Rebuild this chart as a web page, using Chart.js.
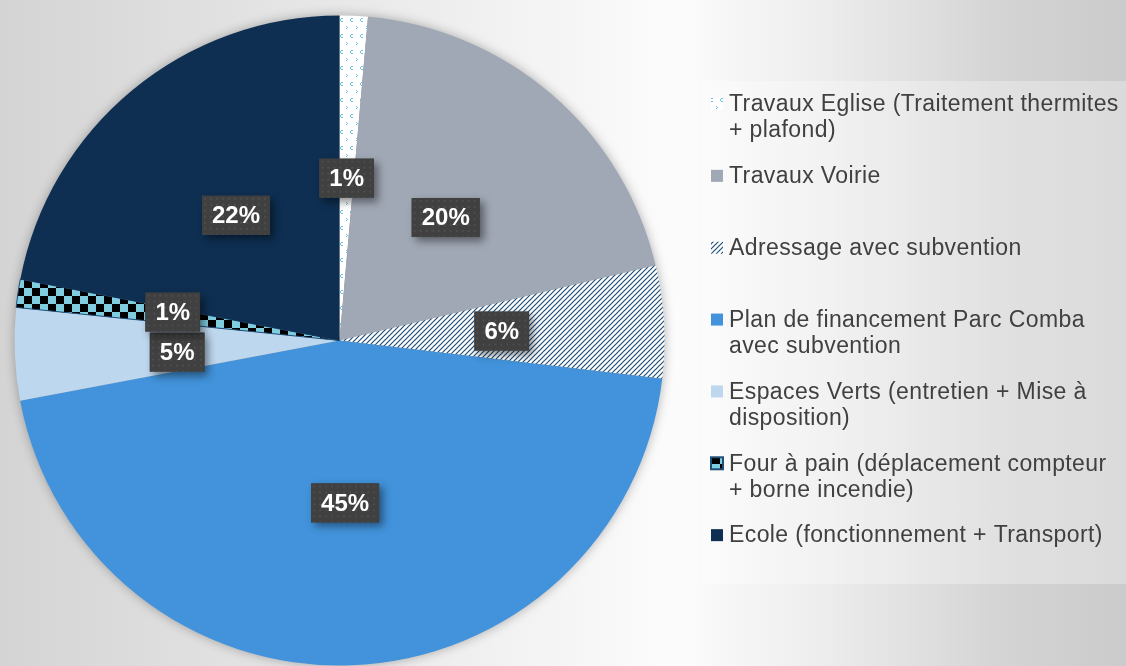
<!DOCTYPE html>
<html>
<head>
<meta charset="utf-8">
<script src="https://cdn.jsdelivr.net/npm/chart.js@4"></script>
<style>
  html, body { margin: 0; padding: 0; }
  body {
    width: 1126px; height: 666px; overflow: hidden;
    background: linear-gradient(90deg, #d4d4d4 0px, #fcfcfc 680px, #ececec 830px, #d4d4d4 1000px, #cbcbcb 1126px);
  }
  canvas { display: block; }
</style>
</head>
<body>
<canvas id="c" width="1126" height="666"></canvas>
<script>
// ---- data ----
const categories = [
  ["Travaux Eglise (Traitement thermites", "+ plafond)"],
  ["Travaux Voirie"],
  ["Adressage avec subvention"],
  ["Plan de financement Parc Comba", "avec subvention"],
  ["Espaces Verts (entretien + Mise à", "disposition)"],
  ["Four à pain (déplacement compteur", "+ borne incendie)"],
  ["Ecole (fonctionnement + Transport)"]
];
const values = [1.4, 19.9, 5.6, 45.2, 4.6, 1.4, 22.0];

// ---- patterns ----
function makeTile(w, h, draw) {
  const c = document.createElement('canvas');
  c.width = w; c.height = h;
  const g = c.getContext('2d');
  draw(g, w, h);
  return c;
}
const ctxMain = document.getElementById('c').getContext('2d');

const confettiTile = makeTile(10, 16, (g) => {
  g.fillStyle = '#ffffff'; g.fillRect(0, 0, 10, 16);
  g.fillStyle = '#6cc3e0';
  g.fillRect(1, 2, 2, 1); g.fillRect(0, 3, 1, 2); g.fillRect(1, 5, 2, 1);
  g.fillRect(6, 10, 1, 1); g.fillRect(7, 11, 1, 1); g.fillRect(6, 12, 1, 1);
});
const stripeTile = makeTile(5, 5, (g) => {
  g.fillStyle = '#ffffff'; g.fillRect(0, 0, 5, 5);
  g.strokeStyle = '#1f4e79'; g.lineWidth = 1.2;
  g.beginPath();
  g.moveTo(-1, 6); g.lineTo(6, -1);
  g.moveTo(-3.5, 3.5); g.lineTo(3.5, -3.5);
  g.moveTo(1.5, 8.5); g.lineTo(8.5, 1.5);
  g.stroke();
});
const checkerTile = makeTile(16, 16, (g) => {
  g.fillStyle = '#80cde0'; g.fillRect(0, 0, 16, 16);
  g.fillStyle = '#000000';
  g.fillRect(0, 0, 8, 8); g.fillRect(8, 8, 8, 8);
});
const boxTile = makeTile(6, 6, (g) => {
  g.fillStyle = '#404040'; g.fillRect(0, 0, 6, 6);
  g.fillStyle = '#4d4d4d'; g.fillRect(2, 2, 2, 2);
});

const colors = [
  ctxMain.createPattern(confettiTile, 'repeat'),
  '#a0a8b5',
  ctxMain.createPattern(stripeTile, 'repeat'),
  '#4293db',
  '#bdd7ee',
  ctxMain.createPattern(checkerTile, 'repeat'),
  '#0e2f52'
];
const borderColors = ['#ffffff', '#a0a8b5', '#ffffff', '#4293db', '#bdd7ee', '#1f4e79', '#0e2f52'];
const borderWidths = [0, 0, 0, 0, 0, 1, 0];
const boxPattern = ctxMain.createPattern(boxTile, 'repeat');

// ---- pie shadow ----
const pieShadow = {
  id: 'pieShadow',
  beforeDatasetsDraw(chart) {
    const arc = chart.getDatasetMeta(0).data[0];
    if (!arc) return;
    const ctx = chart.ctx;
    ctx.save();
    ctx.shadowColor = 'rgba(0,0,0,0.35)';
    ctx.shadowBlur = 12;
    ctx.fillStyle = '#888';
    ctx.beginPath();
    ctx.arc(arc.x, arc.y, arc.outerRadius - 1, 0, Math.PI * 2);
    ctx.fill();
    ctx.restore();
  }
};

// ---- percent labels in dark boxes ----
const boxLabels = {
  id: 'boxLabels',
  afterDatasetsDraw(chart) {
    const ctx = chart.ctx;
    const data = chart.data.datasets[0].data;
    const total = data.reduce((a, b) => a + b, 0);
    const meta = chart.getDatasetMeta(0);
    ctx.save();
    ctx.font = 'bold 24px "Liberation Sans", Arial, sans-serif';
    const boxes = [];
    meta.data.forEach((arc, i) => {
      const p = arc.tooltipPosition();
      const text = Math.round(data[i] / total * 100) + '%';
      const w = ctx.measureText(text).width + 20;
      const h = 39;
      const b = { x: p.x, y: p.y, w, h, text };
      boxes.forEach(o => {
        const ox = (w + o.w) / 2 - Math.abs(b.x - o.x);
        const oy = (h + o.h) / 2 + 1 - Math.abs(b.y - o.y);
        if (ox > 0 && oy > 0) {
          const dir = b.y < o.y ? -1 : 1;
          b.y += dir * oy / 2;
          o.y -= dir * oy / 2;
          b.x -= 6;
        }
      });
      boxes.push(b);
    });
    boxes.forEach(b => {
      ctx.save();
      ctx.shadowColor = 'rgba(0,0,0,0.45)';
      ctx.shadowBlur = 8;
      ctx.shadowOffsetX = 4;
      ctx.shadowOffsetY = 4;
      ctx.fillStyle = '#404040';
      ctx.fillRect(b.x - b.w / 2, b.y - b.h / 2, b.w, b.h);
      ctx.restore();
      ctx.save();
      ctx.translate(b.x - b.w / 2, b.y - b.h / 2);
      ctx.fillStyle = boxPattern;
      ctx.fillRect(0, 0, b.w, b.h);
      ctx.restore();
      ctx.fillStyle = '#ffffff';
      ctx.textAlign = 'center';
      ctx.textBaseline = 'middle';
      ctx.fillText(b.text, b.x, b.y + 1);
    });
    ctx.restore();
  }
};

// ---- legend (right panel) ----
const sideLegend = {
  id: 'sideLegend',
  afterDraw(chart, args, opts) {
    const ctx = chart.ctx;
    const ds = chart.data.datasets[0];
    const n = chart.data.labels.length;
    ctx.save();
    ctx.fillStyle = 'rgba(255,255,255,0.3)';
    ctx.fillRect(opts.x, opts.y, opts.w, opts.h);
    const slot = opts.h / n;
    ctx.font = opts.fontSize + 'px "Liberation Sans", Arial, sans-serif';
    if ('letterSpacing' in ctx) ctx.letterSpacing = opts.letterSpacing + 'px';
    ctx.textBaseline = 'middle';
    ctx.textAlign = 'left';
    chart.data.labels.forEach((lines, i) => {
      const cy = opts.y + opts.firstLine + i * slot;
      ctx.fillStyle = ds.backgroundColor[i];
      ctx.fillRect(opts.x + 9, cy - 6, 12, 12);
      if (ds.borderWidth[i]) {
        ctx.strokeStyle = ds.borderColor[i];
        ctx.lineWidth = 2;
        ctx.strokeRect(opts.x + 9, cy - 6, 12, 12);
      }
      ctx.fillStyle = '#404040';
      lines.forEach((t, j) => ctx.fillText(t, opts.x + 27, cy + j * opts.lineHeight + 1));
    });
    ctx.restore();
  }
};

new Chart(document.getElementById('c'), {
  type: 'pie',
  data: {
    labels: categories,
    datasets: [{
      data: values,
      backgroundColor: colors,
      borderColor: borderColors,
      borderWidth: borderWidths
    }]
  },
  options: {
    responsive: false,
    animation: false,
    devicePixelRatio: 1,
    layout: { padding: { left: 14, right: 461, top: 15, bottom: 0 } },
    plugins: {
      legend: { display: false },
      tooltip: { enabled: false },
      sideLegend: { x: 702, y: 81, w: 424, h: 503, firstLine: 23, lineHeight: 26, fontSize: 23, letterSpacing: 0.4 }
    }
  },
  plugins: [pieShadow, boxLabels, sideLegend]
});
</script>
</body>
</html>
